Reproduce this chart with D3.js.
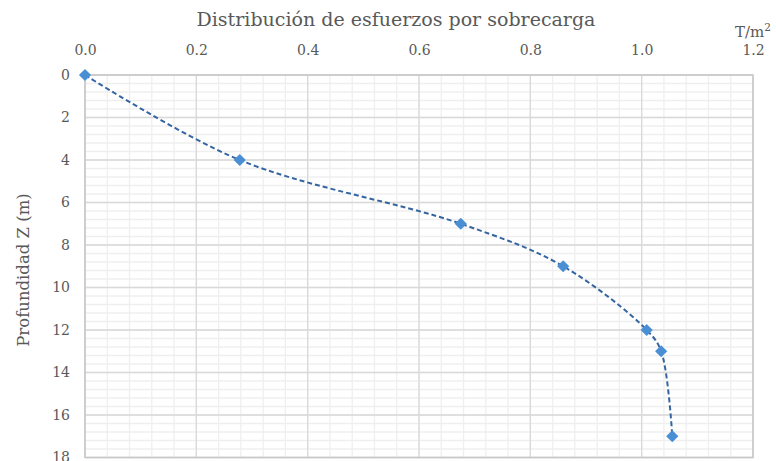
<!DOCTYPE html>
<html>
<head>
<meta charset="utf-8">
<script src="https://cdn.jsdelivr.net/npm/d3@7"></script>
<style>
  html, body { margin: 0; padding: 0; background: #fff; }
  svg { display: block; }
  text { font-family: "DejaVu Serif", "Liberation Serif", serif; fill: #595959; }
</style>
</head>
<body>
<svg id="chart" width="776" height="461"></svg>
<script>
// Stress under surcharge (T/m²) versus depth Z (m)
const stress = [0, 0.278, 0.675, 0.859, 1.009, 1.035, 1.055];
const depth  = [0, 4, 7, 9, 12, 13, 17];
const xTicks = [0, 0.2, 0.4, 0.6, 0.8, 1.0, 1.2];
const yTicks = [0, 2, 4, 6, 8, 10, 12, 14, 16, 18];
const title = "Distribución de esfuerzos por sobrecarga";
const yTitle = "Profundidad Z (m)";

const svg = d3.select("#chart");
const plotL = 85, plotR = 753, plotT = 75, plotB = 457.5;

const x = d3.scaleLinear().domain([0, 1.2]).range([plotL, plotR]);
const y = d3.scaleLinear().domain([0, 18]).range([plotT, plotB]);

// minor grid
const g = svg.append("g");
const xMinor = d3.range(0, 1.2001, 0.04);
const yMinor = d3.range(0, 18.001, 0.4);
g.selectAll("line.xm").data(xMinor).join("line")
  .attr("x1", d => x(d)).attr("x2", d => x(d))
  .attr("y1", plotT).attr("y2", plotB)
  .attr("stroke", "#efefef").attr("stroke-width", 1.3);
g.selectAll("line.ym").data(yMinor).join("line")
  .attr("y1", d => y(d)).attr("y2", d => y(d))
  .attr("x1", plotL).attr("x2", plotR)
  .attr("stroke", "#efefef").attr("stroke-width", 1.3);

// major grid
g.selectAll("line.xM").data(xTicks).join("line")
  .attr("x1", d => x(d)).attr("x2", d => x(d))
  .attr("y1", plotT).attr("y2", plotB)
  .attr("stroke", "#d9d9d9").attr("stroke-width", 1.3);
g.selectAll("line.yM").data(yTicks).join("line")
  .attr("y1", d => y(d)).attr("y2", d => y(d))
  .attr("x1", plotL).attr("x2", plotR)
  .attr("stroke", "#d9d9d9").attr("stroke-width", 1.3);

// plot frame
svg.append("rect")
  .attr("x", plotL).attr("y", plotT)
  .attr("width", plotR - plotL).attr("height", plotB - plotT)
  .attr("fill", "none").attr("stroke", "#c8c8c8").attr("stroke-width", 1.5);

// top axis labels
const xAxis = d3.axisTop(x).tickValues(xTicks).tickFormat(d3.format(".1f")).tickSize(0).tickPadding(0);
const xa = svg.append("g").attr("transform", `translate(0,${plotT})`).call(xAxis);
xa.select(".domain").remove();
xa.selectAll("text")
  .attr("y", -20).attr("dy", null)
  .style("font-size", "14px").style("fill", "#595959")
  .style("font-family", "DejaVu Serif, serif");

// left axis labels
const yAxis = d3.axisLeft(y).tickValues(yTicks).tickFormat(d3.format("d")).tickSize(0).tickPadding(15);
const ya = svg.append("g").attr("transform", `translate(${plotL},0)`).call(yAxis);
ya.select(".domain").remove();
ya.selectAll("text")
  .style("font-size", "14px").style("fill", "#595959")
  .style("font-family", "DejaVu Serif, serif");

// titles
svg.append("text")
  .attr("x", 396).attr("y", 26)
  .attr("text-anchor", "middle")
  .style("font-size", "19px")
  .text(title);

svg.append("text")
  .attr("transform", "translate(29,270) rotate(-90)")
  .attr("text-anchor", "middle")
  .style("font-size", "16.5px")
  .text(yTitle);

const unit = svg.append("text")
  .attr("x", 735).attr("y", 37)
  .style("font-size", "15px");
unit.append("tspan").text("T/m");
unit.append("tspan").attr("dy", -6).style("font-size", "10.5px").text("2");

// data line
const pts = stress.map((s, i) => [s, depth[i]]);
const line = d3.line()
  .x(d => x(d[0])).y(d => y(d[1]))
  .curve(d3.curveCatmullRom.alpha(0.5));
svg.append("path")
  .datum(pts)
  .attr("d", line)
  .attr("fill", "none")
  .attr("stroke", "#3465a0")
  .attr("stroke-width", 2)
  .attr("stroke-dasharray", "5,3");

// diamond markers
const diamond = d3.symbol().type(d3.symbolDiamond2).size(95);
svg.selectAll("path.pt").data(pts).join("path")
  .attr("class", "pt")
  .attr("transform", d => `translate(${x(d[0])},${y(d[1])})`)
  .attr("d", diamond)
  .attr("fill", "#4a8fd3");
</script>
</body>
</html>
